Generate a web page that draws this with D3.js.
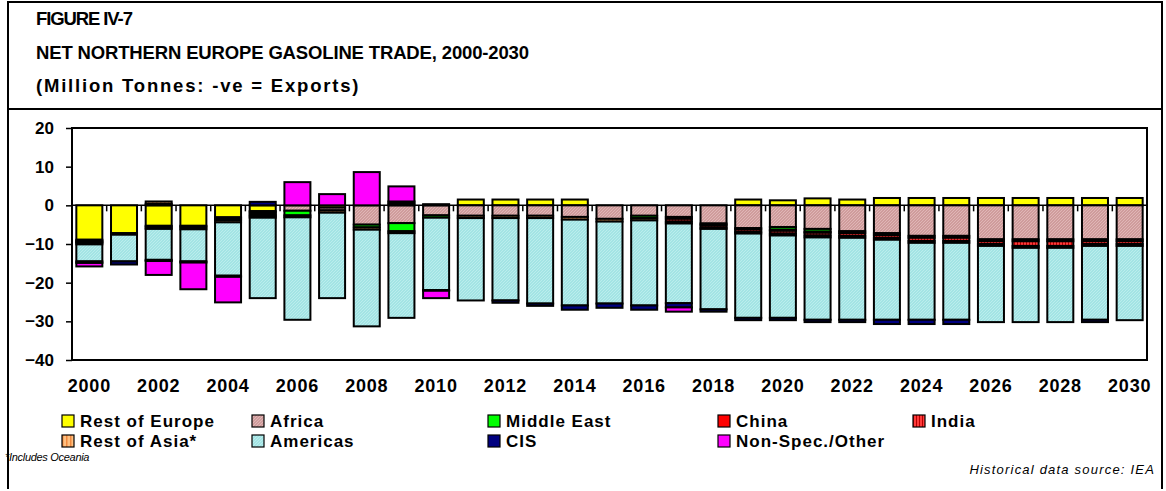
<!DOCTYPE html>
<html>
<head>
<meta charset="utf-8">
<script src="https://cdn.jsdelivr.net/npm/d3@7"></script>
<style>
body { margin: 0; background: #fff; }
svg { display: block; font-family: Arial, "Liberation Sans", sans-serif; }
</style>
</head>
<body>
<svg id="chart" width="1166" height="491"></svg>
<script>
// DATA (million tonnes, -ve = exports)
var years = [2000, 2001, 2002, 2003, 2004, 2005, 2006, 2007, 2008, 2009, 2010,
             2011, 2012, 2013, 2014, 2015, 2016, 2017, 2018, 2019, 2020,
             2021, 2022, 2023, 2024, 2025, 2026, 2027, 2028, 2029, 2030];

var restEurope = [-8.9, -7.2, -5.3, -5.3, -3.1, -1.5, 0, -0.6, 0, 0, 0,
                  1.5, 1.5, 1.5, 1.5, 0, 0, 0, 0, 1.5, 1.3,
                  1.8, 1.5, 1.9, 1.9, 1.9, 1.9, 1.9, 1.9, 1.9, 1.9];
var africa = [-0.3, 0, -0.4, 0, -0.3, -0.4, -1.4, -0.7, -5.0, -4.6, -2.6,
              -2.7, -2.7, -2.7, -3.0, -3.5, -2.7, -3.0, -4.7, -5.9, -5.6,
              -6.1, -6.7, -7.2, -7.9, -7.9, -8.8, -8.8, -8.8, -8.8, -8.8];
var middleEast = [-0.3, 0, -0.4, -0.4, -0.4, -0.5, -1.2, 0, -0.7, -2.1, -0.6,
                  0, 0, 0, 0, 0, -0.6, 0, 0, 0, -0.7,
                  -0.7, 0, 0, 0, 0, 0, 0, 0, 0, 0];
var china = [-0.2, 0, 0.4, 0, 0, -0.4, 0, 0, 0, 0.5, 0,
             0, 0, 0, 0, 0, 0, -0.5, -0.4, -0.4, -0.3,
             -0.3, -0.5, -0.5, -0.5, -0.5, -0.5, -0.5, -0.5, -0.5, -0.5];
var india = [0, 0, 0, 0, 0, 0, 0, 0, 0, -0.5, 0,
             0, 0, 0, 0, 0, 0, -0.7, -0.6, -0.6, -0.7,
             -0.7, -0.7, -0.7, -0.8, -0.8, -0.7, -1.2, -1.2, -0.7, -0.7];
var restAsia = [-0.4, -0.4, 0.6, -0.5, -0.6, -0.4, -0.5, -0.6, -0.6, 0.5, 0.3,
                -0.6, -0.6, -0.6, -0.7, -0.7, -0.6, -0.5, -0.4, -0.4, -0.5,
                -0.5, -0.5, -0.5, -0.5, -0.5, -0.5, -0.5, -0.5, -0.5, -0.5];
var americas = [-4.4, -6.9, -8.0, -8.3, -13.8, -20.8, -26.5, -22.1, -25.0, -21.9, -18.7,
                -21.3, -21.3, -22.1, -22.2, -21.2, -22.0, -20.6, -20.8, -21.8, -21.3,
                -21.3, -21.2, -20.7, -19.9, -19.9, -19.7, -19.2, -19.2, -19.1, -19.2];
var cis = [-0.4, -0.8, -0.3, -0.3, -0.3, 0.9, 0, 0, 0, 0, -0.2,
           0, -0.6, -0.6, -1.1, -1.1, -1.1, -1.1, -0.6, -0.6, -0.6,
           -0.6, -0.6, -1.1, -1.1, -1.1, 0, 0, 0, -0.6, 0];
var nonSpec = [-0.9, 0, -3.6, -6.9, -6.6, 0, 6.0, 2.9, 8.6, 3.9, -1.9,
               0, 0, 0, 0, 0, 0, -1.1, 0, 0, 0,
               0, 0, 0, 0, 0, 0, 0, 0, 0, 0];

var keys = ["restEurope", "africa", "middleEast", "china", "india", "restAsia", "americas", "cis", "nonSpec"];
var series_values = [restEurope, africa, middleEast, china, india, restAsia, americas, cis, nonSpec];
var labels = ["Rest of Europe", "Africa", "Middle East", "China", "India",
              "Rest of Asia*", "Americas", "CIS", "Non-Spec./Other"];
var yTicks = [-40, -30, -20, -10, 0, 10, 20];

// Colours (some are patterns defined below)
var fills = {
    restEurope: "#ffff00",
    africa: "url(#pat-africa)",
    middleEast: "#00ff00",
    china: "#ff0000",
    india: "url(#pat-india)",
    restAsia: "url(#pat-asia)",
    americas: "url(#pat-americas)",
    cis: "#000080",
    nonSpec: "#ff00ff"
};

// build table for d3.stack
var table = years.map(function (yr, i) {
    var row = { year: yr };
    for (var k = 0; k < keys.length; k++) row[keys[k]] = series_values[k][i];
    return row;
});

var svg = d3.select("#chart");

// plot frame
var plotL = 72, plotR = 1147, plotT = 128, plotB = 360;

var x = d3.scaleBand()
    .domain(years)
    .range([plotL, plotR])
    .paddingInner(0.25)
    .paddingOuter(0.125);

var y = d3.scaleLinear()
    .domain([-40, 20])
    .range([plotB, plotT]);

// PATTERNS
var defs = svg.append("defs");

var pa = defs.append("pattern").attr("id", "pat-africa")
    .attr("patternUnits", "userSpaceOnUse").attr("width", 3).attr("height", 3);
pa.append("rect").attr("width", 3).attr("height", 3).attr("fill", "#cf9c9c");
pa.append("path").attr("d", "M0,3L3,0").attr("stroke", "#e4bcbc").attr("stroke-width", 0.8);

var pm = defs.append("pattern").attr("id", "pat-americas")
    .attr("patternUnits", "userSpaceOnUse").attr("width", 3).attr("height", 3);
pm.append("rect").attr("width", 3).attr("height", 3).attr("fill", "#a3e4e4");
pm.append("path").attr("d", "M0,3L3,0").attr("stroke", "#c2f0f0").attr("stroke-width", 0.8);

var pi = defs.append("pattern").attr("id", "pat-india")
    .attr("patternUnits", "userSpaceOnUse").attr("width", 3).attr("height", 3);
pi.append("rect").attr("width", 3).attr("height", 3).attr("fill", "#ff3a3a");
pi.append("rect").attr("width", 1).attr("height", 3).attr("fill", "#b80000");

var ps = defs.append("pattern").attr("id", "pat-asia")
    .attr("patternUnits", "userSpaceOnUse").attr("width", 4).attr("height", 4);
ps.append("rect").attr("width", 4).attr("height", 4).attr("fill", "#ffc080");
ps.append("rect").attr("width", 1.5).attr("height", 4).attr("fill", "#f08a40");

// OUTER FRAME
svg.append("path")
    .attr("d", "M8,489V2H1162V489")
    .attr("fill", "none").attr("stroke", "#000").attr("stroke-width", 2);
svg.append("line")
    .attr("x1", 8).attr("x2", 1162).attr("y1", 109).attr("y2", 109)
    .attr("stroke", "#000").attr("stroke-width", 2);

// TITLE
var title = svg.append("g").attr("font-weight", "bold").attr("fill", "#000");
title.append("text").attr("x", 36).attr("y", 25).attr("font-size", 18.5)
    .attr("letter-spacing", -1.1).text("FIGURE IV-7");
title.append("text").attr("x", 36).attr("y", 59).attr("font-size", 18.5)
    .attr("letter-spacing", -0.15).text("NET NORTHERN EUROPE GASOLINE TRADE, 2000-2030");
title.append("text").attr("x", 36).attr("y", 92).attr("font-size", 18.5)
    .attr("letter-spacing", 1.8).text("(Million Tonnes: -ve = Exports)");

// PLOT BOX
svg.append("rect")
    .attr("x", plotL).attr("y", plotT)
    .attr("width", plotR - plotL).attr("height", plotB - plotT)
    .attr("fill", "none").attr("stroke", "#000").attr("stroke-width", 2);

// y axis ticks + labels
var yAxis = d3.axisLeft(y).tickValues(yTicks).tickSize(6).tickSizeOuter(0).tickPadding(12);
var gy = svg.append("g").attr("transform", "translate(" + plotL + ",0)").call(yAxis);
gy.select(".domain").remove();
gy.selectAll(".tick line").attr("stroke", "#000").attr("stroke-width", 1.5);
gy.selectAll(".tick text")
    .attr("font-size", 17).attr("font-weight", "bold")
    .attr("font-family", "Arial, 'Liberation Sans', sans-serif").attr("fill", "#000");

// zero line with category ticks
svg.append("line")
    .attr("x1", plotL).attr("x2", plotR).attr("y1", y(0)).attr("y2", y(0))
    .attr("stroke", "#000").attr("stroke-width", 1.5);
var step = x.step();
svg.append("g").selectAll("line")
    .data(years.slice(1))
    .join("line")
    .attr("x1", function (d) { return x(d) - step * 0.125; })
    .attr("x2", function (d) { return x(d) - step * 0.125; })
    .attr("y1", y(0)).attr("y2", y(0) + 6)
    .attr("stroke", "#000").attr("stroke-width", 1.5);

// STACKED BARS
var stack = d3.stack().keys(keys).offset(d3.stackOffsetDiverging);
var stacked = stack(table);

svg.append("g").selectAll("g")
    .data(stacked)
    .join("g")
    .attr("fill", function (d) { return fills[d.key]; })
    .selectAll("rect")
    .data(function (d) { return d.filter(function (p) { return p[1] - p[0] !== 0; }); })
    .join("rect")
    .attr("x", function (d) { return x(d.data.year); })
    .attr("width", x.bandwidth())
    .attr("y", function (d) { return y(d[1]); })
    .attr("height", function (d) { return y(d[0]) - y(d[1]); })
    .attr("stroke", "#000")
    .attr("stroke-width", 2);

// x labels every second year
var xAxis = d3.axisBottom(x)
    .tickValues(years.filter(function (d, i) { return i % 2 === 0; }))
    .tickSize(0).tickPadding(0);
var gx = svg.append("g").attr("transform", "translate(0," + 379 + ")").call(xAxis);
gx.select(".domain").remove();
gx.selectAll(".tick text")
    .attr("font-size", 18).attr("font-weight", "bold").attr("letter-spacing", 0.8)
    .attr("font-family", "Arial, 'Liberation Sans', sans-serif").attr("fill", "#000");

// LEGEND
var legX = [62, 252, 488, 718, 913];
var legY = [421, 441];
var leg = svg.append("g").selectAll("g")
    .data(keys)
    .join("g")
    .attr("transform", function (d, i) {
        return "translate(" + legX[i % 5] + "," + legY[Math.floor(i / 5)] + ")";
    });
leg.append("rect")
    .attr("x", 0).attr("y", -6).attr("width", 12).attr("height", 12)
    .attr("fill", function (d) { return fills[d]; })
    .attr("stroke", "#000").attr("stroke-width", 1.2);
leg.append("text")
    .attr("x", 18).attr("y", 6)
    .attr("font-size", 17).attr("font-weight", "bold").attr("letter-spacing", 1)
    .text(function (d, i) { return labels[i]; });

// FOOTNOTES
svg.append("text").attr("x", 5).attr("y", 461)
    .attr("font-size", 11).attr("font-style", "italic").attr("letter-spacing", -0.3)
    .text("*Includes Oceania");
svg.append("text").attr("x", 1155).attr("y", 474).attr("text-anchor", "end")
    .attr("font-size", 13).attr("font-style", "italic").attr("letter-spacing", 1.2)
    .text("Historical data source: IEA");
</script>
</body>
</html>
